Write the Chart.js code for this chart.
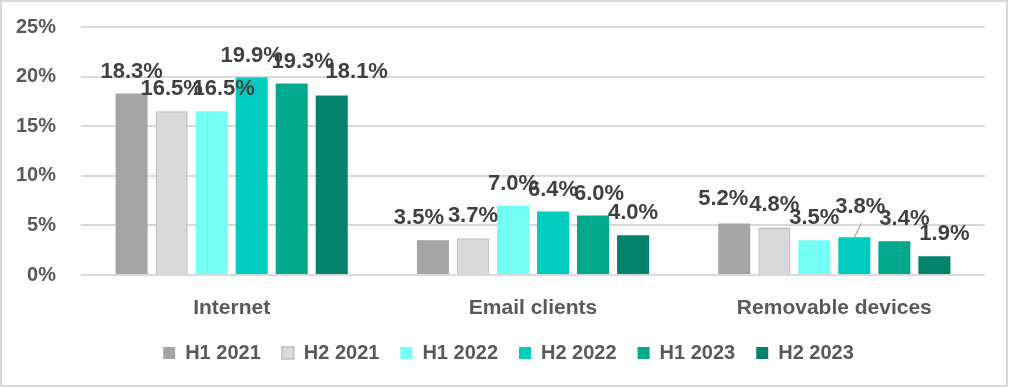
<!DOCTYPE html>
<html>
<head>
<meta charset="utf-8">
<script src="https://cdn.jsdelivr.net/npm/chart.js@4/dist/chart.umd.min.js"></script>
<style>
  html, body { margin: 0; padding: 0; background: #fff; }
  canvas { display: block; }
</style>
</head>
<body>
<canvas id="attackChart" width="1010" height="388"></canvas>
<script>
// ── Data ──
const categories = ['Internet', 'Email clients', 'Removable devices'];
const periods    = ['H1 2021', 'H2 2021', 'H1 2022', 'H2 2022', 'H1 2023', 'H2 2023'];

const h1_2021 = [18.3, 3.5, 5.2];
const h2_2021 = [16.5, 3.7, 4.8];
const h1_2022 = [16.5, 7.0, 3.5];
const h2_2022 = [19.9, 6.4, 3.8];
const h1_2023 = [19.3, 6.0, 3.4];
const h2_2023 = [18.1, 4.0, 1.9];

const yTicks = [0, 5, 10, 15, 20, 25];

const seriesValues = [h1_2021, h2_2021, h1_2022, h2_2022, h1_2023, h2_2023];
const seriesColors = ['#A5A5A5', '#D9D9D9', '#72FFF4', '#00CDC0', '#00A88C', '#00836D'];

const FONT = "'Liberation Sans', Arial, sans-serif";
const GREY_TXT = '#595959';

// ── Plugins ──
const frame = {
  id: 'frame',
  beforeDraw(chart) {
    const ctx = chart.ctx;
    ctx.save();
    ctx.fillStyle = '#fff';
    ctx.fillRect(0, 0, chart.width, chart.height);
    ctx.strokeStyle = '#D9D9D9';
    ctx.lineWidth = 2;
    ctx.strokeRect(1, 1, chart.width - 4, chart.height - 3);
    ctx.restore();
  },
  // legend sits centred on the whole frame, not just left of the right padding
  afterLayout(chart) {
    if (chart.legend) {
      chart.legend.left += 16;
      chart.legend.right += 16;
    }
  }
};

// value labels above each bar; a few were dragged sideways in the source,
// and one sits higher with a leader line
const valueLabels = {
  id: 'valueLabels',
  afterDatasetsDraw(chart, args, opts) {
    const ctx = chart.ctx;
    ctx.save();
    ctx.font = `bold ${opts.size}px ${FONT}`;
    ctx.fillStyle = '#404040';
    ctx.textAlign = 'center';
    ctx.textBaseline = 'middle';
    chart.data.datasets.forEach((ds, i) => {
      chart.getDatasetMeta(i).data.forEach((bar, j) => {
        const nudge = (opts.nudges || []).find(n => n.ds === i && n.idx === j);
        let x = bar.x, y = bar.y - opts.offset;
        if (nudge) {
          x += nudge.dx || 0;
          y += nudge.dy || 0;
          if (nudge.leader) {
            ctx.strokeStyle = '#A6A6A6';
            ctx.lineWidth = 1.2;
            ctx.beginPath();
            ctx.moveTo(bar.x, bar.y);
            ctx.lineTo(x + 1, y + 16);
            ctx.stroke();
          }
        }
        ctx.fillText(ds.data[j].toFixed(1) + '%', x, y);
      });
    });
    ctx.restore();
  }
};

// ── Chart ──
new Chart(document.getElementById('attackChart').getContext('2d'), {
  type: 'bar',
  data: {
    labels: categories,
    datasets: periods.map((p, i) => ({
      label: p,
      data: seriesValues[i],
      backgroundColor: seriesColors[i],
      borderColor: i === 1 ? '#BFBFBF' : seriesColors[i],
      borderWidth: i === 1 ? 1.5 : 0,
      barPercentage: 0.8,
      categoryPercentage: 0.797,
    }))
  },
  plugins: [frame, valueLabels],
  options: {
    responsive: false,
    animation: false,
    layout: { padding: { left: 0, right: 25, top: 27, bottom: 15 } },
    plugins: {
      tooltip: { enabled: false },
      legend: {
        position: 'bottom',
        labels: {
          color: GREY_TXT,
          font: { family: FONT, size: 20, weight: 'bold' },
          boxWidth: 12,
          boxHeight: 12,
          padding: 21,
        }
      },
      valueLabels: {
        size: 22,
        offset: 22,
        nudges: [
          { ds: 2, idx: 0, dx: 12 },
          { ds: 4, idx: 0, dx: 11 },
          { ds: 5, idx: 0, dx: 25, dy: -2 },
          { ds: 0, idx: 1, dx: -14 },
          { ds: 4, idx: 1, dx: 6 },
          { ds: 0, idx: 2, dx: -11, dy: -2 },
          { ds: 3, idx: 2, dx: 6, dy: -8, leader: true },
          { ds: 4, idx: 2, dx: 10 },
          { ds: 5, idx: 2, dx: 10 },
        ]
      }
    },
    scales: {
      x: {
        grid: { display: false },
        border: { display: false },
        ticks: {
          color: GREY_TXT,
          font: { family: FONT, size: 21, weight: 'bold' },
          padding: 13,
        },
        afterFit: s => { s.height = 47; }
      },
      y: {
        min: 0,
        max: 25,
        afterBuildTicks: s => { s.ticks = yTicks.map(v => ({ value: v })); },
        grid: { color: '#D9D9D9', lineWidth: 2, drawTicks: false },
        border: { display: false },
        ticks: {
          color: GREY_TXT,
          font: { family: FONT, size: 20, weight: 'bold' },
          padding: 25,
          callback: v => v + '%'
        },
        afterFit: s => { s.width = 81; s.paddingTop = 0; s.paddingBottom = 0; }
      }
    }
  }
});
</script>
</body>
</html>
